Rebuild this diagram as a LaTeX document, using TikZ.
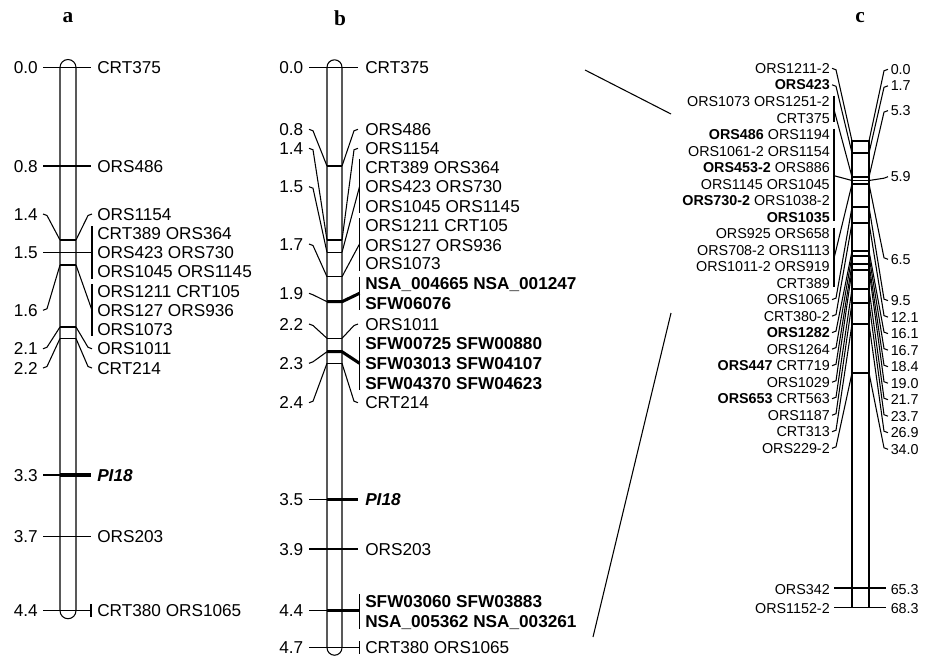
\documentclass[tikz,border=0pt]{standalone}
\usepackage{fontspec}
\setmainfont{Liberation Sans}
\newfontfamily\panelfont{Liberation Serif}
\newcommand\hookLeft[4]{%
  \pgfmathsetmacro\hkyy{(#4>#2)?(#2+1.5):(#2-1.5)}%
  \draw[conn] (#1,#2) -- (#1+4,\hkyy) -- (#3,#4);}
\newcommand\hookRight[4]{%
  \pgfmathsetmacro\hkyy{(#2>#4)?(#4+1.5):(#4-1.5)}%
  \draw[conn] (#1,#2) -- (#3-4,\hkyy) -- (#3,#4);}
\begin{document}
\begin{tikzpicture}[x=0.75pt,y=-0.75pt,
  conn/.style={line width=0.8pt},
  chrom/.style={draw,line width=0.8pt},
  mk/.style={line width=2.3pt},
  lab/.style={font=\fontsize{12.9}{15}\selectfont, inner sep=0pt, text height=9.2pt, text depth=0pt},
  labb/.style={lab, font=\fontsize{12.9}{15}\selectfont\bfseries},
  clab/.style={font=\fontsize{10.75}{12}\selectfont, inner sep=0pt, text height=7.7pt, text depth=0pt},
  panel/.style={font=\panelfont\fontsize{16}{18}\selectfont\bfseries, inner sep=0pt}]
\useasboundingbox (0,0) rectangle (931,661);

% ---------------- panel letters
\node[panel] (pa) at (68,18) {a};
\node[panel] (pb) at (340,18) {b};
\node[panel] (pc) at (860,18) {c};

% ================= PANEL A
\draw[chrom,rounded corners=6pt] (60,59.5) rectangle (76,618.7);
\foreach \yy in {240,252.5,265,327,338.5} \draw[conn] (60,\yy) -- (76,\yy);
\draw[conn] (43,67.5) -- (91,67.5);
\draw[conn] (43,166) -- (91,166);
\draw[conn] (43,536.7) -- (91,536.7);
\draw[conn] (43,610.7) -- (91,610.7);
\draw[conn] (91,604) -- (91,617);
\draw[conn] (43,475) -- (60,475);
\draw[mk] (60,475) -- (91,475);
% left numbers
\node[lab,anchor=east] (an1) at (38,67.5) {0.0};
\node[lab,anchor=east] (an2) at (38,166) {0.8};
\node[lab,anchor=east] (an3) at (38,214) {1.4};
\node[lab,anchor=east] (an4) at (38,252.5) {1.5};
\node[lab,anchor=east] (an5) at (38,310.25) {1.6};
\node[lab,anchor=east] (an6) at (38,348.75) {2.1};
\node[lab,anchor=east] (an7) at (38,368) {2.2};
\node[lab,anchor=east] (an8) at (38,475) {3.3};
\node[lab,anchor=east] (an9) at (38,536.7) {3.7};
\node[lab,anchor=east] (an10) at (38,610.7) {4.4};
\hookLeft{43}{214}{60}{240}
\draw[conn] (43,252.5) -- (60,252.5);
\hookLeft{43}{310.25}{60}{265}
\hookLeft{43}{348.75}{60}{327}
\hookLeft{43}{368}{60}{338.5}
% right side
\hookRight{76}{240}{92}{214}
\draw[conn] (76,252.5) -- (92,252.5);
\draw[conn] (92,226) -- (92,279);
\draw[conn] (76,265) -- (92,310.25);
\draw[conn] (92,284) -- (92,336);
\hookRight{76}{327}{92}{348.75}
\hookRight{76}{338.5}{92}{368}
\node[lab,anchor=west] (al1) at (97,67.5) {CRT375};
\node[lab,anchor=west] (al2) at (97,166) {ORS486};
\node[lab,anchor=west] (al3) at (97,214) {ORS1154};
\node[lab,anchor=west] (al4) at (97,233.25) {CRT389 ORS364};
\node[lab,anchor=west] (al5) at (97,252.5) {ORS423 ORS730};
\node[lab,anchor=west] (al6) at (97,271.75) {ORS1045 ORS1145};
\node[lab,anchor=west] (al7) at (97,291) {ORS1211 CRT105};
\node[lab,anchor=west] (al8) at (97,310.25) {ORS127 ORS936};
\node[lab,anchor=west] (al9) at (97,329.5) {ORS1073};
\node[lab,anchor=west] (al10) at (97,348.75) {ORS1011};
\node[lab,anchor=west] (al11) at (97,368) {CRT214};
\node[labb,anchor=west] (al12) at (97,475) {\itshape PI18};
\node[lab,anchor=west] (al13) at (97,536.7) {ORS203};
\node[lab,anchor=west] (al14) at (97,610.7) {CRT380 ORS1065};

% ================= PANEL B
\draw[chrom,rounded corners=5.625pt] (327,59.8) rectangle (342,655.2);
\foreach \yy in {166,240,252.3,276.7,338.3,363.3} \draw[conn] (327,\yy) -- (342,\yy);
\draw[conn] (309,67.3) -- (358,67.3);
\draw[conn] (309,549) -- (358,549);
\draw[conn] (309,647.5) -- (359.5,647.5);
\draw[conn] (359.5,641) -- (359.5,654);
\draw[mk,line join=round] (327,301.7) -- (342,301.7) -- (359.5,293.3);
\draw[mk,line join=round] (327,351.7) -- (342,351.7) -- (359.5,363.3);
\draw[conn] (309,499.3) -- (327,499.3);
\draw[mk] (327,499.3) -- (358,499.3);
\draw[conn] (309,610.7) -- (327,610.7);
\draw[mk] (327,610.7) -- (359.5,610.7);
\draw[conn] (359.5,594) -- (359.5,629);
\draw[conn] (359.5,159) -- (359.5,213);
\draw[conn] (359.5,218) -- (359.5,271);
\draw[conn] (359.5,276.5) -- (359.5,310);
\draw[conn] (359.5,336.5) -- (359.5,390);
\node[lab,anchor=east] (bn1) at (303.5,67.3) {0.0};
\node[lab,anchor=east] (bn2) at (303.5,129.3) {0.8};
\node[lab,anchor=east] (bn3) at (303.5,148.3) {1.4};
\node[lab,anchor=east] (bn4) at (303.5,186.7) {1.5};
\node[lab,anchor=east] (bn5) at (303.5,244) {1.7};
\node[lab,anchor=east] (bn6) at (303.5,293.3) {1.9};
\node[lab,anchor=east] (bn7) at (303.5,324) {2.2};
\node[lab,anchor=east] (bn8) at (303.5,363.3) {2.3};
\node[lab,anchor=east] (bn9) at (303.5,402.7) {2.4};
\node[lab,anchor=east] (bn10) at (303.5,499.3) {3.5};
\node[lab,anchor=east] (bn11) at (303.5,549) {3.9};
\node[lab,anchor=east] (bn12) at (303.5,610.7) {4.4};
\node[lab,anchor=east] (bn13) at (303.5,647.5) {4.7};
\hookLeft{309}{129.3}{327}{166}
\hookLeft{309}{148.3}{327}{240}
\hookLeft{309}{186.7}{327}{252.3}
\hookLeft{309}{244}{327}{276.7}
\hookLeft{309}{293.3}{327}{301.7}
\hookLeft{309}{324}{327}{338.3}
\hookLeft{309}{363.3}{327}{351.7}
\hookLeft{309}{402.7}{327}{363.3}
\hookRight{342}{166}{358}{129.3}
\hookRight{342}{240}{358}{148.3}
\draw[conn] (342,252.3) -- (359.5,186.7);
\draw[conn] (342,276.7) -- (359.5,244);
\hookRight{342}{338.3}{358}{324}
\hookRight{342}{363.3}{358}{402.7}
\node[lab,anchor=west] (bl1) at (365,67.3) {CRT375};
\node[lab,anchor=west] (bl2) at (365,129.3) {ORS486};
\node[lab,anchor=west] (bl3) at (365,148.3) {ORS1154};
\node[lab,anchor=west] (bl4) at (365,167.3) {CRT389 ORS364};
\node[lab,anchor=west] (bl5) at (365,186.7) {ORS423 ORS730};
\node[lab,anchor=west] (bl6) at (365,206) {ORS1045 ORS1145};
\node[lab,anchor=west] (bl7) at (365,225) {ORS1211 CRT105};
\node[lab,anchor=west] (bl8) at (365,245) {ORS127 ORS936};
\node[lab,anchor=west] (bl9) at (365,263.3) {ORS1073};
\node[labb,anchor=west] (bl10) at (365,283.3) {NSA\_004665 NSA\_001247};
\node[labb,anchor=west] (bl11) at (365,303.3) {SFW06076};
\node[lab,anchor=west] (bl12) at (365,324) {ORS1011};
\node[labb,anchor=west] (bl13) at (365,343.3) {SFW00725 SFW00880};
\node[labb,anchor=west] (bl14) at (365,363.3) {SFW03013 SFW04107};
\node[labb,anchor=west] (bl15) at (365,383.3) {SFW04370 SFW04623};
\node[lab,anchor=west] (bl16) at (365,402.7) {CRT214};
\node[labb,anchor=west] (bl17) at (365,499.3) {\itshape PI18};
\node[lab,anchor=west] (bl18) at (365,549) {ORS203};
\node[labb,anchor=west] (bl19) at (365,601.7) {SFW03060 SFW03883};
\node[labb,anchor=west] (bl20) at (365,621.7) {NSA\_005362 NSA\_003261};
\node[lab,anchor=west] (bl21) at (365,647.5) {CRT380 ORS1065};

% zoom lines b -> c
\coordinate (zt1) at (585,70);
\coordinate (zt2) at (671,114);
\coordinate (zb1) at (593,637);
\coordinate (zb2) at (671,313);
\draw[conn] (zt1) -- (zt2);
\draw[conn] (zb1) -- (zb2);

% ================= PANEL C
\draw[chrom] (852,141) rectangle (869,607.5);
\foreach \yy in {153,177,180.5,184,207,223,251,256,264,270,289,303,324,373,588}
  \draw[conn] (852,\yy) -- (869,\yy);
% left labels
\node[clab,anchor=east] (cl0) at (830,68.3) {ORS1211-2};
\node[clab,anchor=east] (cl1) at (830,84.8) {\bfseries ORS423};
\node[clab,anchor=east] (cl2) at (830,101.3) {ORS1073 ORS1251-2};
\node[clab,anchor=east] (cl3) at (830,117.9) {CRT375};
\node[clab,anchor=east] (cl4) at (830,134.4) {\textbf{ORS486} ORS1194};
\node[clab,anchor=east] (cl5) at (830,150.9) {ORS1061-2 ORS1154};
\node[clab,anchor=east] (cl6) at (830,167.4) {\textbf{ORS453-2} ORS886};
\node[clab,anchor=east] (cl7) at (830,183.9) {ORS1145 ORS1045};
\node[clab,anchor=east] (cl8) at (830,200.5) {\textbf{ORS730-2} ORS1038-2};
\node[clab,anchor=east] (cl9) at (830,217) {\bfseries ORS1035};
\node[clab,anchor=east] (cl10) at (830,233.5) {ORS925 ORS658};
\node[clab,anchor=east] (cl11) at (830,250) {ORS708-2 ORS1113};
\node[clab,anchor=east] (cl12) at (830,266.5) {ORS1011-2 ORS919};
\node[clab,anchor=east] (cl13) at (830,283.1) {CRT389};
\node[clab,anchor=east] (cl14) at (830,299.6) {ORS1065};
\node[clab,anchor=east] (cl15) at (830,316.1) {CRT380-2};
\node[clab,anchor=east] (cl16) at (830,332.6) {\bfseries ORS1282};
\node[clab,anchor=east] (cl17) at (830,349.1) {ORS1264};
\node[clab,anchor=east] (cl18) at (830,365.7) {\textbf{ORS447} CRT719};
\node[clab,anchor=east] (cl19) at (830,382.2) {ORS1029};
\node[clab,anchor=east] (cl20) at (830,398.7) {\textbf{ORS653} CRT563};
\node[clab,anchor=east] (cl21) at (830,415.2) {ORS1187};
\node[clab,anchor=east] (cl22) at (830,431.7) {CRT313};
\node[clab,anchor=east] (cl23) at (830,448.3) {ORS229-2};
\node[clab,anchor=east] (cl24) at (830,589) {ORS342};
\node[clab,anchor=east] (cl25) at (830,608) {ORS1152-2};
% left connectors
\hookLeft{832}{68.3}{852}{141}
\hookLeft{832}{84.8}{852}{153}
\draw[conn] (834,95.5) -- (834,122);
\draw[conn] (834,109.6) -- (852,177);
\draw[conn] (834,128.5) -- (834,221);
\draw[conn] (834,175.7) -- (852,180.5);
\draw[conn] (834,227.5) -- (834,287);
\draw[conn] (834,258.3) -- (852,184);
\hookLeft{832}{299.6}{852}{207}
\hookLeft{832}{316.1}{852}{223}
\hookLeft{832}{332.6}{852}{251}
\hookLeft{832}{349.1}{852}{256}
\hookLeft{832}{365.7}{852}{264}
\hookLeft{832}{382.2}{852}{270}
\hookLeft{832}{398.7}{852}{289}
\hookLeft{832}{415.2}{852}{303}
\hookLeft{832}{431.7}{852}{324}
\hookLeft{832}{448.3}{852}{373}
\draw[conn] (834,588) -- (886,588);
\draw[line width=1.2pt] (834,607.5) -- (886,607.5);
% right numbers
\node[clab,anchor=west] (cr0) at (890.5,69.3) {0.0};
\node[clab,anchor=west] (cr1) at (890.5,85.8) {1.7};
\node[clab,anchor=west] (cr2) at (890.5,110.6) {5.3};
\node[clab,anchor=west] (cr3) at (890.5,176.7) {5.9};
\node[clab,anchor=west] (cr4) at (890.5,259.3) {6.5};
\node[clab,anchor=west] (cr5) at (890.5,300.6) {9.5};
\node[clab,anchor=west] (cr6) at (890.5,317.1) {12.1};
\node[clab,anchor=west] (cr7) at (890.5,333.6) {16.1};
\node[clab,anchor=west] (cr8) at (890.5,350.1) {16.7};
\node[clab,anchor=west] (cr9) at (890.5,366.7) {18.4};
\node[clab,anchor=west] (cr10) at (890.5,383.2) {19.0};
\node[clab,anchor=west] (cr11) at (890.5,399.7) {21.7};
\node[clab,anchor=west] (cr12) at (890.5,416.2) {23.7};
\node[clab,anchor=west] (cr13) at (890.5,432.7) {26.9};
\node[clab,anchor=west] (cr14) at (890.5,449.3) {34.0};
\node[clab,anchor=west] (cr15) at (890.5,589) {65.3};
\node[clab,anchor=west] (cr16) at (890.5,608) {68.3};
\hookRight{869}{141}{888}{69.3}
\hookRight{869}{153}{888}{85.8}
\hookRight{869}{177}{888}{110.6}
\hookRight{869}{180.5}{888}{176.7}
\hookRight{869}{184}{888}{259.3}
\hookRight{869}{207}{888}{300.6}
\hookRight{869}{223}{888}{317.1}
\hookRight{869}{251}{888}{333.6}
\hookRight{869}{256}{888}{350.1}
\hookRight{869}{264}{888}{366.7}
\hookRight{869}{270}{888}{383.2}
\hookRight{869}{289}{888}{399.7}
\hookRight{869}{303}{888}{416.2}
\hookRight{869}{324}{888}{432.7}
\hookRight{869}{373}{888}{449.3}
\end{tikzpicture}
\end{document}
